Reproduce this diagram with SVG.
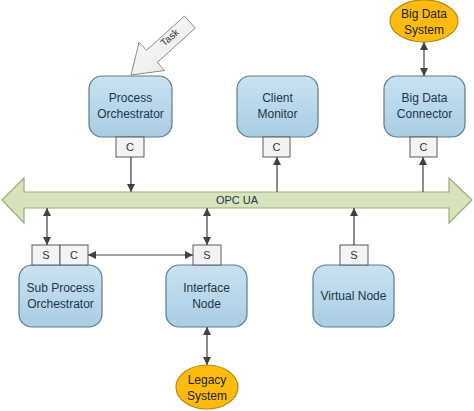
<svg xmlns="http://www.w3.org/2000/svg" width="474" height="411" viewBox="0 0 474 411">
<defs>
<linearGradient id="gNode" x1="0" y1="0" x2="0" y2="1">
<stop offset="0" stop-color="#c9e2f1"/>
<stop offset="1" stop-color="#a9cde3"/>
</linearGradient>
<linearGradient id="gTask" x1="0" y1="0" x2="1" y2="1">
<stop offset="0" stop-color="#ffffff"/>
<stop offset="1" stop-color="#e4e4e4"/>
</linearGradient>
<marker id="ah" viewBox="0 0 10 10" refX="10" refY="5" markerWidth="8" markerHeight="8" markerUnits="userSpaceOnUse" orient="auto-start-reverse">
<path d="M0,0 L10,5 L0,10 Z" fill="#404040"/>
</marker>
<style>
.node{fill:url(#gNode);stroke:#5d7b8f;stroke-width:1.2}
.port{fill:#f3f3f3;stroke:#5a5a5a;stroke-width:1}
.ell{fill:#fdbb10;stroke:#b48a10;stroke-width:1.2}
.t{font-family:"Liberation Sans",Arial,sans-serif;font-size:12px;fill:#1d3546;text-anchor:middle}
.pt{font-family:"Liberation Sans",Arial,sans-serif;font-size:11px;fill:#333;text-anchor:middle}
.c{stroke:#404040;stroke-width:1.2;fill:none}
</style>
</defs>
<g id="bus">
<polygon points="2,200 24,178 24,192 449,192 449,178 472,200 449,223 449,208 24,208 24,223" fill="#d6e3bc" stroke="#9aab7c" stroke-width="1.2"/>
<text class="t" x="237" y="204" style="font-size:11px">OPC UA</text>
</g>
<g id="task">
<polygon points="131,75 139.2,42.1 146.5,50.3 184.5,16.1 195.3,28.1 157.3,62.3 164.6,70.5" fill="url(#gTask)" stroke="#8a8a8a" stroke-width="1"/>
<text class="t" x="0" y="0" style="font-size:10px;fill:#333" transform="translate(172,40) rotate(-41.9)">Task</text>
</g>
<g id="process-orchestrator">
<rect class="node" x="89" y="76" width="83" height="61" rx="13"/>
<text class="t" x="130.5" y="102">Process</text>
<text class="t" x="130.5" y="118">Orchestrator</text>
<rect class="port" x="116" y="137" width="28" height="20"/>
<text class="pt" x="130" y="151">C</text>
</g>
<g id="client-monitor">
<rect class="node" x="237" y="76" width="81" height="61" rx="13"/>
<text class="t" x="277.5" y="102">Client</text>
<text class="t" x="277.5" y="118">Monitor</text>
<rect class="port" x="263" y="137" width="27" height="20"/>
<text class="pt" x="276.5" y="151">C</text>
</g>
<g id="big-data-connector">
<rect class="node" x="384" y="76" width="81" height="61" rx="13"/>
<text class="t" x="424.5" y="102">Big Data</text>
<text class="t" x="424.5" y="118">Connector</text>
<rect class="port" x="410" y="137" width="27" height="20"/>
<text class="pt" x="423.5" y="151">C</text>
</g>
<g id="big-data-system">
<ellipse class="ell" cx="424" cy="21" rx="34" ry="21"/>
<text class="t" x="424" y="18" style="fill:#222">Big Data</text>
<text class="t" x="424" y="34" style="fill:#222">System</text>
</g>
<g id="sub-process-orchestrator">
<rect class="node" x="19" y="265" width="83" height="62" rx="13"/>
<text class="t" x="60.5" y="292">Sub Process</text>
<text class="t" x="60.5" y="308">Orchestrator</text>
<rect class="port" x="32" y="245" width="28" height="20"/>
<text class="pt" x="46" y="259">S</text>
<rect class="port" x="60" y="245" width="28" height="20"/>
<text class="pt" x="74" y="259">C</text>
</g>
<g id="interface-node">
<rect class="node" x="166" y="265" width="81" height="62" rx="13"/>
<text class="t" x="206.5" y="292">Interface</text>
<text class="t" x="206.5" y="308">Node</text>
<rect class="port" x="193" y="245" width="28" height="20"/>
<text class="pt" x="207" y="259">S</text>
</g>
<g id="legacy-system">
<ellipse class="ell" cx="207" cy="387" rx="31" ry="22"/>
<text class="t" x="207" y="384" style="fill:#222">Legacy</text>
<text class="t" x="207" y="400" style="fill:#222">System</text>
</g>
<g id="virtual-node">
<rect class="node" x="313" y="265" width="81" height="62" rx="13"/>
<text class="t" x="353.5" y="300">Virtual Node</text>
<rect class="port" x="340" y="245" width="28" height="20"/>
<text class="pt" x="354" y="259">S</text>
</g>
<g id="connectors">
<line class="c" x1="131" y1="157" x2="131" y2="192" marker-end="url(#ah)"/>
<line class="c" x1="277" y1="192" x2="277" y2="157" marker-end="url(#ah)"/>
<line class="c" x1="423" y1="192" x2="423" y2="157" marker-end="url(#ah)"/>
<line class="c" x1="424" y1="42" x2="424" y2="76" marker-start="url(#ah)" marker-end="url(#ah)"/>
<line class="c" x1="47" y1="208" x2="47" y2="245" marker-start="url(#ah)" marker-end="url(#ah)"/>
<line class="c" x1="207" y1="208" x2="207" y2="245" marker-start="url(#ah)" marker-end="url(#ah)"/>
<line class="c" x1="88" y1="255" x2="193" y2="255" marker-start="url(#ah)" marker-end="url(#ah)"/>
<line class="c" x1="207" y1="327" x2="207" y2="365" marker-start="url(#ah)" marker-end="url(#ah)"/>
<line class="c" x1="354" y1="245" x2="354" y2="208" marker-end="url(#ah)"/>
</g>
</svg>
